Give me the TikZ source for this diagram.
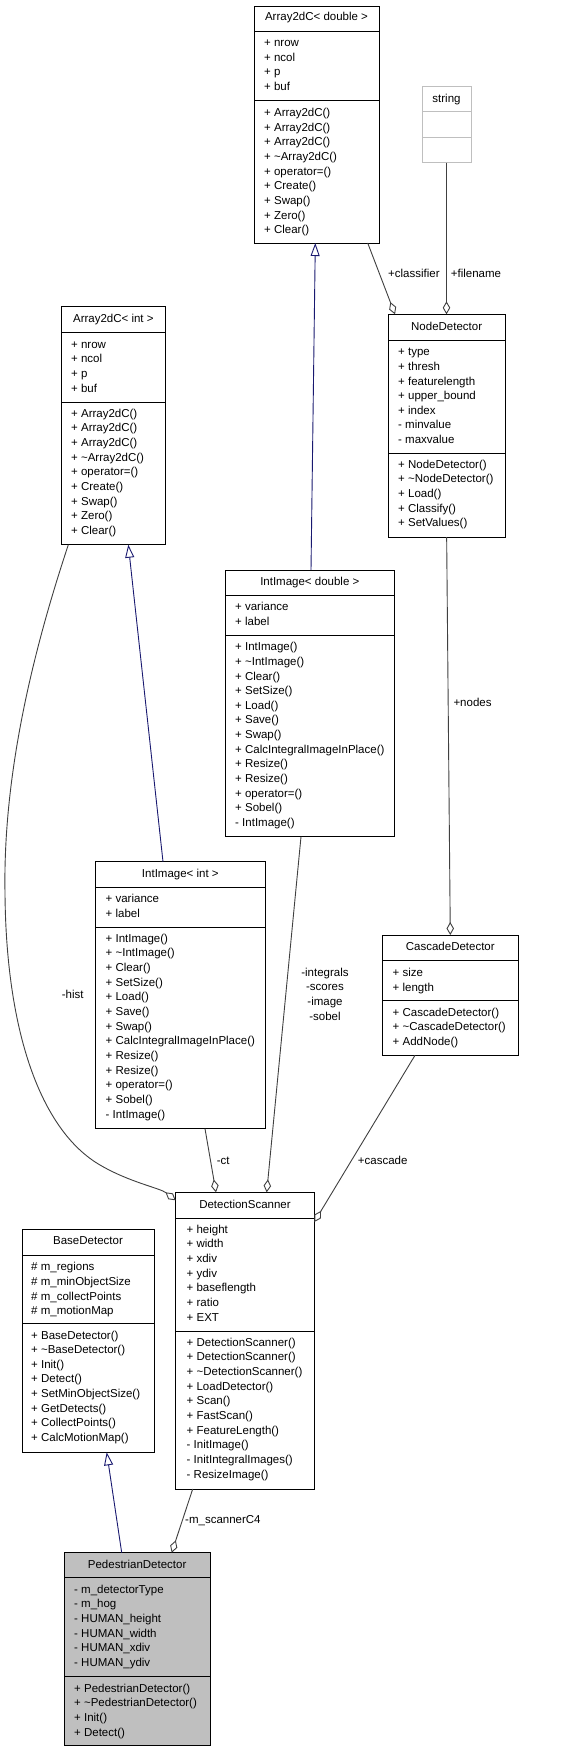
\documentclass[tikz,border=0pt]{standalone}
\usepackage{fontspec}
\setmainfont{Liberation Sans}
\usetikzlibrary{arrows.meta}
\definecolor{edgegray}{HTML}{404040}
\definecolor{inhblue}{HTML}{191970}
\definecolor{lightgray}{HTML}{BFBFBF}
\tikzset{
 box/.style={draw=black, line width=0.9pt, fill=white, inner sep=0pt, outer sep=0pt},
 sepline/.style={draw=black, line width=0.9pt},
 ttl/.style={anchor=base, inner sep=0pt},
 mem/.style={anchor=base west, inner sep=0pt},
 lbl/.style={anchor=base west, inner sep=0pt},
 clbl/.style={anchor=base, inner sep=0pt},
 assoc/.style={draw=edgegray, line width=0.9pt, -{Diamond[open, length=13pt, width=7.5pt]}},
 inherit/.style={draw=inhblue, line width=0.9pt, -{Triangle[open, length=13pt, width=9pt]}},
}
\newcommand\umlbox[8]{%
  \node[box, #8, minimum width={#4-#2}, minimum height={#5-#3}, anchor=north west] (#1) at (#2,#3) {};
  \draw[sepline, #8] (#2,#6) -- (#4,#6);
  \draw[sepline, #8] (#2,#7) -- (#4,#7);
}
\newcommand\members[4]{%
  \foreach \mm [count=\i from 0] in {#4} {\node[mem] (#1\i) at (#2, {#3+14.65*\i}) {\mm};}
}
\begin{document}
\begin{tikzpicture}[x=1pt, y=-1pt, font=\fontsize{11.5}{14}\selectfont]
\fill[white] (0,0) rectangle (581,1752);
\useasboundingbox (0,0) rectangle (581,1752);

% Array2dC< double >
\umlbox{ad}{254}{6}{379}{243}{31.3}{100}{}
\node[ttl] (ad-t) at (316.5,21) {Array2dC< double >};
\members{ad-a}{264}{46.7}{+ nrow,+ ncol,+ p,+ buf}
\members{ad-m}{264}{116.7}{+ Array2dC(),+ Array2dC(),+ Array2dC(),+ \textasciitilde Array2dC(),+ operator=(),+ Create(),+ Swap(),+ Zero(),+ Clear()}

% string
\umlbox{str}{422}{86.7}{471}{162.7}{111.7}{137}{draw=lightgray}
\node[ttl] (str-t) at (446.5,102.7) {string};

% NodeDetector
\umlbox{nd}{388.3}{314.3}{505}{537}{340}{453}{}
\node[ttl] (nd-t) at (446.65,330.7) {NodeDetector};
\members{nd-a}{398}{355.7}{+ type,+ thresh,+ featurelength,+ upper\_bound,+ index,- minvalue,- maxvalue}
\members{nd-m}{398}{468.3}{+ NodeDetector(),+ \textasciitilde NodeDetector(),+ Load(),+ Classify(),+ SetValues()}

% Array2dC< int >
\umlbox{ai}{61.7}{306.7}{165}{544.7}{332.3}{402}{}
\node[ttl] (ai-t) at (113.35,322.3) {Array2dC< int >};
\members{ai-a}{71}{348.3}{+ nrow,+ ncol,+ p,+ buf}
\members{ai-m}{71}{417.3}{+ Array2dC(),+ Array2dC(),+ Array2dC(),+ \textasciitilde Array2dC(),+ operator=(),+ Create(),+ Swap(),+ Zero(),+ Clear()}

% IntImage< double >
\umlbox{iid}{225.3}{570}{394.3}{836.7}{595}{635.3}{}
\node[ttl] (iid-t) at (309.8,585.3) {IntImage< double >};
\members{iid-a}{235}{610.7}{+ variance,+ label}
\members{iid-m}{235}{650.7}{+ IntImage(),+ \textasciitilde IntImage(),+ Clear(),+ SetSize(),+ Load(),+ Save(),+ Swap(),+ CalcIntegralImageInPlace(),+ Resize(),+ Resize(),+ operator=(),+ Sobel(),- IntImage()}

% IntImage< int >
\umlbox{iii}{95.7}{861.7}{265}{1128.7}{887.3}{927}{}
\node[ttl] (iii-t) at (180.35,877.3) {IntImage< int >};
\members{iii-a}{105.5}{902.7}{+ variance,+ label}
\members{iii-m}{105.5}{942.3}{+ IntImage(),+ \textasciitilde IntImage(),+ Clear(),+ SetSize(),+ Load(),+ Save(),+ Swap(),+ CalcIntegralImageInPlace(),+ Resize(),+ Resize(),+ operator=(),+ Sobel(),- IntImage()}

% CascadeDetector
\umlbox{cd}{382.3}{935}{518.3}{1055.3}{960.7}{1000.3}{}
\node[ttl] (cd-t) at (450.3,950.7) {CascadeDetector};
\members{cd-a}{392.5}{976.7}{+ size,+ length}
\members{cd-m}{392.5}{1016.3}{+ CascadeDetector(),+ \textasciitilde CascadeDetector(),+ AddNode()}

% DetectionScanner
\umlbox{ds}{175.7}{1192.3}{314.3}{1489}{1218}{1331}{}
\node[ttl] (ds-t) at (245,1208) {DetectionScanner};
\members{ds-a}{186.5}{1233.3}{+ height,+ width,+ xdiv,+ ydiv,+ baseflength,+ ratio,+ EXT}
\members{ds-m}{186.5}{1346.3}{+ DetectionScanner(),+ DetectionScanner(),+ \textasciitilde DetectionScanner(),+ LoadDetector(),+ Scan(),+ FastScan(),+ FeatureLength(),- InitImage(),- InitIntegralImages(),- ResizeImage()}

% BaseDetector
\umlbox{bd}{22}{1229.3}{154}{1452.3}{1255}{1323.3}{}
\node[ttl] (bd-t) at (88,1244) {BaseDetector};
\members{bd-a}{31}{1270.7}{\# m\_regions,\# m\_minObjectSize,\# m\_collectPoints,\# m\_motionMap}
\members{bd-m}{31}{1339}{+ BaseDetector(),+ \textasciitilde BaseDetector(),+ Init(),+ Detect(),+ SetMinObjectSize(),+ GetDetects(),+ CollectPoints(),+ CalcMotionMap()}

% PedestrianDetector
\umlbox{pd}{64.3}{1552.7}{210}{1745.7}{1577.3}{1676.7}{fill=lightgray}
\node[ttl] (pd-t) at (137.15,1568.3) {PedestrianDetector};
\members{pd-a}{74}{1593.3}{- m\_detectorType,- m\_hog,- HUMAN\_height,- HUMAN\_width,- HUMAN\_xdiv,- HUMAN\_ydiv}
\members{pd-m}{74}{1692.3}{+ PedestrianDetector(),+ \textasciitilde PedestrianDetector(),+ Init(),+ Detect()}

% connectors
\draw[inherit] ([xshift=1.2pt]iid.north) -- ([xshift=-1.2pt]ad.south);
\draw[inherit] ([xshift=-17.35pt]iii.north) -- ([xshift=14.95pt]ai.south);
\draw[inherit] ([xshift=-15.45pt]pd.north) -- ([xshift=18.7pt]bd.south);
\draw[assoc] ([xshift=51.2pt]ad.south) -- ([xshift=-51.65pt]nd.north);
\draw[assoc] (str.south) -- (str.south |- nd.north);
\draw[assoc] (nd.south) -- (cd.north);
\draw[assoc] ([xshift=-45pt]ai.south) .. controls (30,660) and (3,780) .. (5,893)
   .. controls (6,1030) and (40,1130) .. (100,1165)
   .. controls (130,1182.5) and (160,1188) .. ([yshift=-8pt]ds.north west);
\draw[assoc] ([xshift=-8.8pt]iid.south) -- ([xshift=21.7pt]ds.north);
\draw[assoc] ([xshift=24.65pt]iii.south) -- ([xshift=-29pt]ds.north);
\draw[assoc] ([xshift=-35.3pt]cd.south) -- ([yshift=-29.7pt]ds.north east);
\draw[assoc] ([xshift=-52.3pt]ds.south) -- ([xshift=34.55pt]pd.north);

% connector labels
\node[lbl] (l-classifier) at (388,278) {+classifier};
\node[lbl] (l-filename) at (450.7,278) {+filename};
\node[lbl] (l-nodes) at (453.3,706.7) {+nodes};
\node[lbl] (l-hist) at (61.7,998) {-hist};
\node[clbl] (l-integrals) at (325,976.7) {-integrals};
\node[clbl] (l-scores) at (325,990.9) {-scores};
\node[clbl] (l-image) at (325,1005.5) {-image};
\node[clbl] (l-sobel) at (325,1020) {-sobel};
\node[lbl] (l-ct) at (216.7,1164) {-ct};
\node[lbl] (l-cascade) at (357.7,1164) {+cascade};
\node[lbl] (l-scanner) at (185,1523) {-m\_scannerC4};
\end{tikzpicture}
\end{document}
